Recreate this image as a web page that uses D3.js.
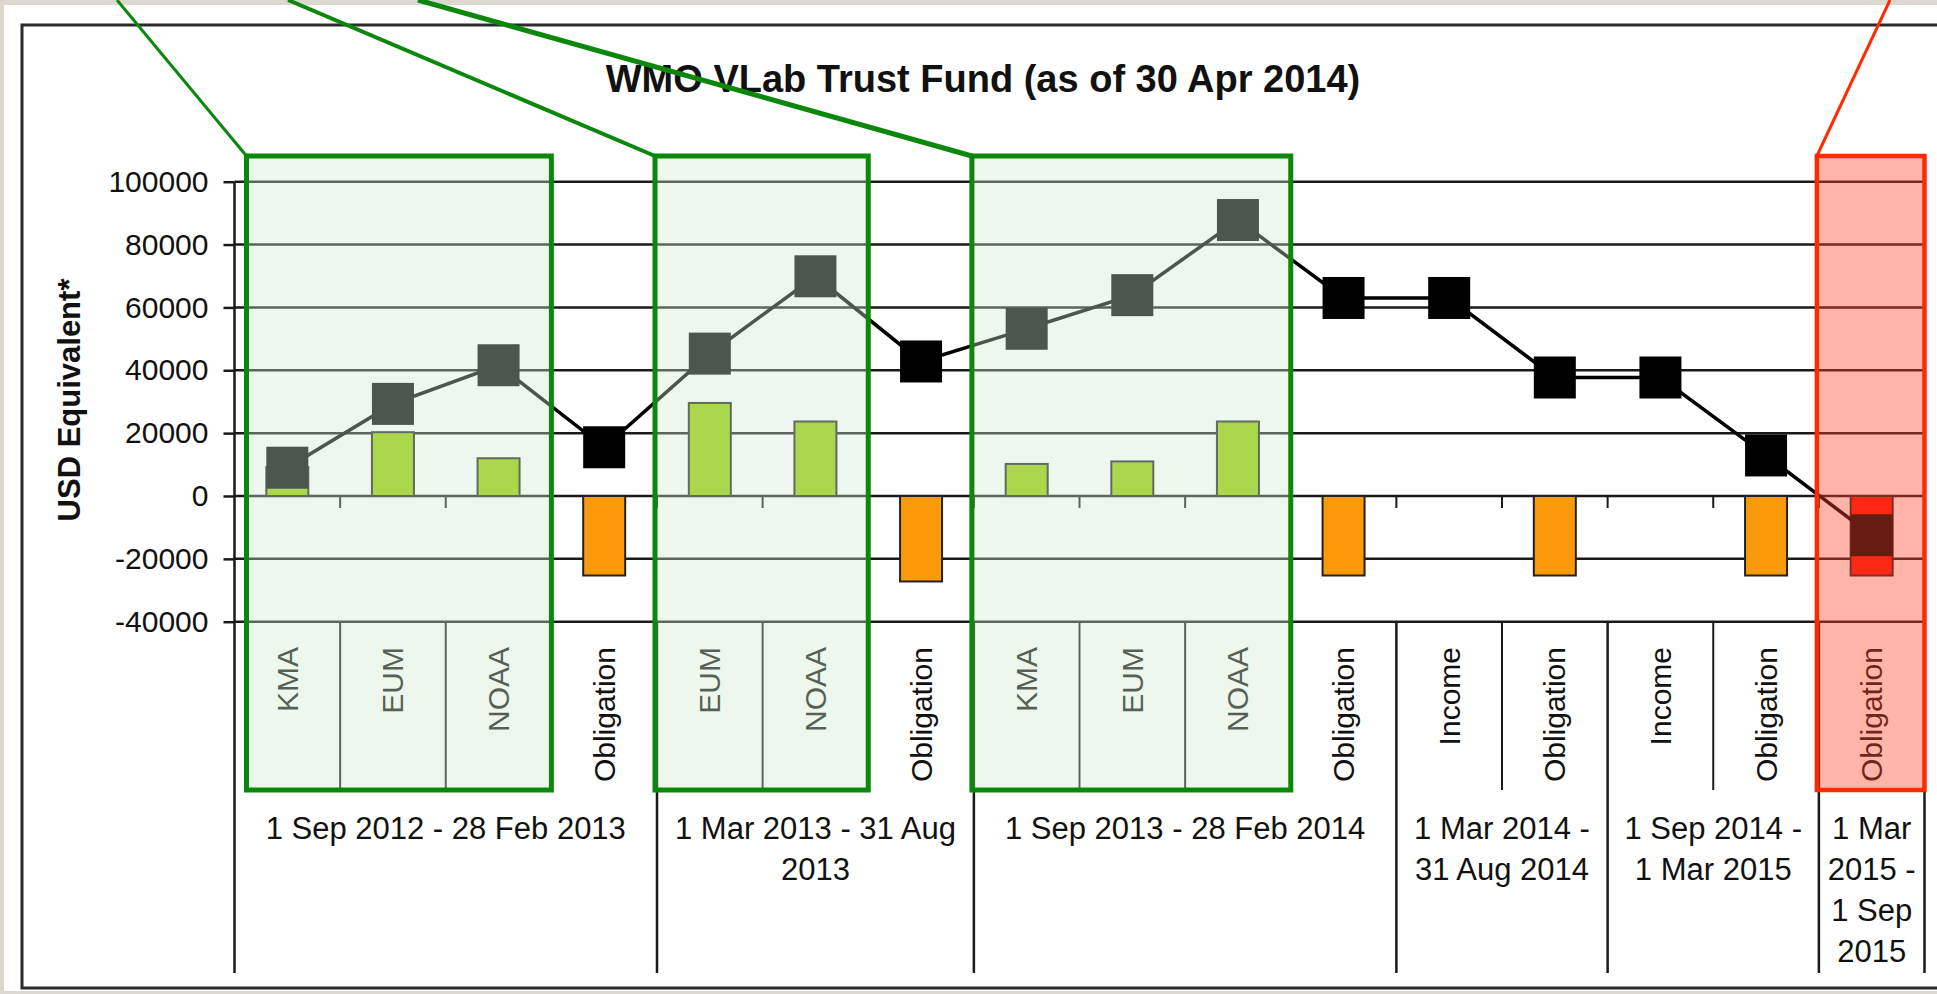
<!DOCTYPE html>
<html lang="en">
<head>
    <meta charset="UTF-8">
    <title>WMO VLab Trust Fund</title>
    <style>
        html, body { margin: 0; padding: 0; background: #dcd8cf; }
        svg { display: block; }
        text { font-family: "Liberation Sans", Arial, Helvetica, sans-serif; fill: #111; }
    </style>
</head>
<body>
    <div class="chart"></div>
    <script src="https://cdn.jsdelivr.net/npm/d3@7/dist/d3.min.js"></script>
    <script>
    // data
    var categories = ["KMA", "EUM", "NOAA", "Obligation",
                      "EUM", "NOAA", "Obligation",
                      "KMA", "EUM", "NOAA", "Obligation",
                      "Income", "Obligation",
                      "Income", "Obligation",
                      "Obligation"];
    var flows   = [9200, 20300, 12000, -25300, 29600, 23700, -27200, 10200, 11000, 23700, -25300, 0, -25300, 0, -25300, -25300];
    var balance = [9000, 29300, 41600, 15500, 45300, 69900, 42800, 53200, 63900, 87800, 63000, 63000, 37700, 37700, 12900, -12500];
    var periodSizes  = [4, 3, 4, 2, 2, 1];
    var periodLabels = [
        ["1 Sep 2012 - 28 Feb 2013"],
        ["1 Mar 2013 - 31 Aug", "2013"],
        ["1 Sep 2013 - 28 Feb 2014"],
        ["1 Mar 2014 -", "31 Aug 2014"],
        ["1 Sep 2014 -", "1 Mar 2015"],
        ["1 Mar", "2015 -", "1 Sep", "2015"]
    ];
    var yTicks = [-40000, -20000, 0, 20000, 40000, 60000, 80000, 100000];
    var greenGroups = [[0, 2], [4, 5], [7, 9]];
    var redGroups = [[15, 15]];
    var calloutTops = [117, 288, 418];
    var redCalloutTop = 1890;

    var container = { width: 1937, height: 994 };
    var plot = { left: 234.5, right: 1924.5, top: 181.7, bottom: 621.7 };
    var labelRowBottom = 790, tableBottom = 973;
    var boxTop = 156;

    var svg = d3.select(".chart").append("svg")
        .attr("width", container.width)
        .attr("height", container.height);

    // paper + frame
    svg.append("rect")
        .attr("x", 4).attr("y", 5)
        .attr("width", container.width - 4).attr("height", container.height - 8)
        .attr("fill", "#fff");
    svg.append("path")
        .attr("d", "M" + container.width + ",25H22V988H" + container.width)
        .attr("fill", "none").attr("stroke", "#2b2b2b").attr("stroke-width", 3);

    // scales
    var x = d3.scaleBand()
        .domain(d3.range(categories.length))
        .range([plot.left, plot.right])
        .padding(0);
    var bw = x.bandwidth();
    function cx(i) { return x(i) + bw / 2; }
    function edge(i) { return i >= categories.length ? plot.right : x(i); }

    var y = d3.scaleLinear()
        .domain([-40000, 100000])
        .range([plot.bottom, plot.top]);

    // title
    svg.append("text")
        .attr("x", 983).attr("y", 92)
        .attr("text-anchor", "middle")
        .style("font-size", "38px").style("font-weight", "bold")
        .text("WMO VLab Trust Fund (as of 30 Apr 2014)");

    svg.append("text")
        .attr("transform", "translate(80,400) rotate(-90)")
        .attr("text-anchor", "middle")
        .style("font-size", "31px").style("font-weight", "bold")
        .text("USD Equivalent*");

    // gridlines
    svg.append("g").selectAll("line.grid").data(yTicks).enter()
        .append("line")
        .attr("class", "grid")
        .attr("x1", plot.left).attr("x2", plot.right)
        .attr("y1", function(d) { return y(d); })
        .attr("y2", function(d) { return y(d); })
        .attr("stroke", "#1a1a1a").attr("stroke-width", 2.5);

    // y axis
    var yAxis = svg.append("g")
        .attr("transform", "translate(" + plot.left + ",0)")
        .call(d3.axisLeft(y).tickValues(yTicks).tickFormat(function(d) { return String(d); })
            .tickSize(11).tickSizeOuter(0).tickPadding(15));
    yAxis.select(".domain").remove();
    yAxis.selectAll("line").attr("stroke", "#1a1a1a").attr("stroke-width", 2.5);
    yAxis.selectAll("text")
        .style("font-size", "30px")
        .style("font-family", "\"Liberation Sans\", Arial, sans-serif")
        .attr("fill", "#111");

    svg.append("line")
        .attr("x1", plot.left).attr("x2", plot.left)
        .attr("y1", plot.top).attr("y2", tableBottom)
        .attr("stroke", "#1a1a1a").attr("stroke-width", 2.5);

    // category ticks on the zero line
    svg.append("g").selectAll("line").data(d3.range(1, categories.length)).enter()
        .append("line")
        .attr("x1", function(i) { return x(i); })
        .attr("x2", function(i) { return x(i); })
        .attr("y1", y(0)).attr("y2", y(0) + 12)
        .attr("stroke", "#1a1a1a").attr("stroke-width", 2);

    // label table separators
    var periodEdges = [0];
    periodSizes.forEach(function(n) { periodEdges.push(periodEdges[periodEdges.length - 1] + n); });
    var innerEdges = d3.range(1, categories.length).filter(function(i) { return periodEdges.indexOf(i) < 0; });

    svg.append("g").selectAll("line").data(innerEdges).enter()
        .append("line")
        .attr("x1", function(i) { return x(i); })
        .attr("x2", function(i) { return x(i); })
        .attr("y1", plot.bottom).attr("y2", labelRowBottom)
        .attr("stroke", "#1a1a1a").attr("stroke-width", 2);

    svg.append("g").selectAll("line").data(periodEdges.slice(1)).enter()
        .append("line")
        .attr("x1", function(i) { return edge(i); })
        .attr("x2", function(i) { return edge(i); })
        .attr("y1", plot.bottom).attr("y2", tableBottom)
        .attr("stroke", "#1a1a1a").attr("stroke-width", 2.5);

    // category labels
    svg.append("g").selectAll("text").data(categories).enter()
        .append("text")
        .attr("transform", function(d, i) { return "translate(" + cx(i) + ",647) rotate(-90)"; })
        .attr("text-anchor", "end")
        .attr("dy", "0.35em")
        .style("font-size", "30px")
        .text(function(d) { return d; });

    // period labels
    var periods = svg.append("g").selectAll("text").data(periodLabels).enter()
        .append("text")
        .attr("text-anchor", "middle")
        .style("font-size", "31px");
    periods.each(function(lines, p) {
        var mid = (edge(periodEdges[p]) + edge(periodEdges[p + 1])) / 2;
        d3.select(this).selectAll("tspan").data(lines).enter()
            .append("tspan")
            .attr("x", mid)
            .attr("y", function(d, k) { return 839 + k * 41; })
            .text(function(d) { return d; });
    });

    // bars
    var barW = 42;
    var inRed = function(i) { return redGroups.some(function(g) { return i >= g[0] && i <= g[1]; }); };
    svg.append("g").selectAll("rect.bar")
        .data(flows.map(function(v, i) { return { v: v, i: i }; }).filter(function(d) { return d.v !== 0; }))
        .enter()
        .append("rect")
        .attr("class", "bar")
        .attr("x", function(d) { return cx(d.i) - barW / 2; })
        .attr("width", barW)
        .attr("y", function(d) { return Math.min(y(d.v), y(0)); })
        .attr("height", function(d) { return Math.abs(y(d.v) - y(0)); })
        .attr("fill", function(d) { return d.v > 0 ? "#96cd00" : (inRed(d.i) ? "#ff1408" : "#fa9a0a"); })
        .attr("stroke", "#222").attr("stroke-width", 2);

    // balance line
    var line = d3.line()
        .x(function(d, i) { return cx(i); })
        .y(function(d) { return y(d); });
    svg.append("path")
        .datum(balance)
        .attr("d", line)
        .attr("fill", "none")
        .attr("stroke", "#000").attr("stroke-width", 3.5);

    var mark = 42;
    svg.append("g").selectAll("rect").data(balance).enter()
        .append("rect")
        .attr("x", function(d, i) { return cx(i) - mark / 2; })
        .attr("y", function(d) { return y(d) - mark / 2; })
        .attr("width", mark).attr("height", mark)
        .attr("fill", "#000");

    // highlight boxes
    function boxLeft(g) { return Math.max(x(g[0]) - 2, plot.left + 12); }
    function boxRight(g) { return edge(g[1] + 1); }

    svg.append("g").selectAll("rect").data(greenGroups).enter()
        .append("rect")
        .attr("x", boxLeft)
        .attr("y", boxTop)
        .attr("width", function(g) { return boxRight(g) - boxLeft(g); })
        .attr("height", labelRowBottom - boxTop)
        .attr("fill", "rgba(205,232,205,0.37)")
        .attr("stroke", "#0b880b").attr("stroke-width", 5);

    svg.append("g").selectAll("rect").data(redGroups).enter()
        .append("rect")
        .attr("x", boxLeft)
        .attr("y", boxTop)
        .attr("width", function(g) { return boxRight(g) - boxLeft(g); })
        .attr("height", labelRowBottom - boxTop)
        .attr("fill", "rgba(255,70,40,0.4)")
        .attr("stroke", "#ff2a00").attr("stroke-width", 4.5);

    // callout lines to the boxes
    svg.append("g").selectAll("line").data(greenGroups).enter()
        .append("line")
        .attr("x1", function(g, k) { return calloutTops[k]; })
        .attr("y1", 0)
        .attr("x2", boxLeft)
        .attr("y2", boxTop)
        .attr("stroke", "#0b880b")
        .attr("stroke-width", function(g, k) { return 3 + k; });

    svg.append("line")
        .attr("x1", redCalloutTop).attr("y1", 0)
        .attr("x2", boxLeft(redGroups[0])).attr("y2", boxTop)
        .attr("stroke", "#ff2a00").attr("stroke-width", 3);
    </script>
</body>
</html>
